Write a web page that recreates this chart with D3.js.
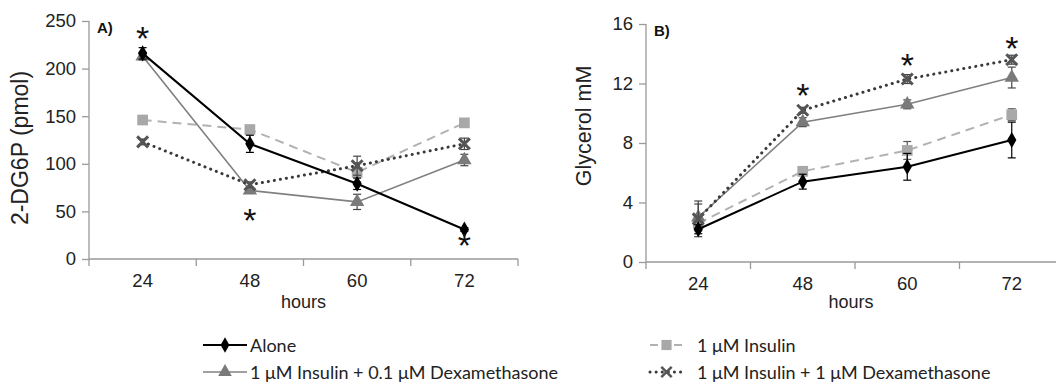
<!DOCTYPE html>
<html>
<head>
<meta charset="utf-8">
<script src="https://cdn.jsdelivr.net/npm/d3@7.9.0/dist/d3.min.js"></script>
<style>
  html, body { margin: 0; padding: 0; background: #fff; }
  svg { display: block; }
  .axis path, .axis line { stroke: #9a9a9a; stroke-width: 1.3; }
  .axis text { font-family: "Liberation Sans", Arial, sans-serif; font-size: 18.5px; fill: #222; }
  .legend text { font-family: Lato, "Open Sans", sans-serif; font-size: 18px; fill: #222; }
</style>
</head>
<body>
<svg id="chart" width="1056" height="384"></svg>
<script>
// ---- data ----
const hours = ['24', '48', '60', '72'];

// panel A: 2-DG6P (pmol)
const aloneA = [216, 121, 79, 31];
const aloneAErr = [6, 9, 6, 2];
const insulinA = [146, 136, 91, 143];
const insulinAErr = [3, 4, 10, 3];
const insDex01A = [213, 72, 60, 104];
const insDex01AErr = [4, 3, 8, 6];
const insDex1A = [123, 78, 98, 121];
const insDex1AErr = [3, 3, 10, 6];
const starsA = [{ hour: '24', value: 236 }, { hour: '48', value: 45 }, { hour: '72', value: 19 }];
const ticksA = [0, 50, 100, 150, 200, 250];

// panel B: glycerol mM
const aloneB = [2.2, 5.4, 6.4, 8.2];
const aloneBErr = [0.3, 0.5, 0.9, 1.2];
const insulinB = [2.6, 6.1, 7.5, 9.9];
const insulinBErr = [0.3, 0.3, 0.6, 0.4];
const insDex01B = [3.0, 9.4, 10.6, 12.4];
const insDex01BErr = [0.9, 0.3, 0.3, 0.7];
const insDex1B = [2.9, 10.2, 12.3, 13.6];
const insDex1BErr = [1.2, 0.2, 0.3, 0.3];
const starsB = [{ hour: '48', value: 11.5 }, { hour: '60', value: 13.5 }, { hour: '72', value: 14.65 }];
const ticksB = [0, 4, 8, 12, 16];

const seriesNames = ['Alone', '1 \u03bcM Insulin', '1 \u03bcM Insulin + 0.1 \u03bcM Dexamethasone', '1 \u03bcM Insulin + 1 \u03bcM Dexamethasone'];

// ---- styles per series ----
const styles = [
  { line: '#000', mark: '#000', width: 2, dash: null, symbol: d3.symbolDiamond, size: 75, err: '#000' },
  { line: '#b2b2b2', mark: '#a8a8a8', width: 2, dash: '9,6', symbol: d3.symbolSquare, size: 115, err: '#555' },
  { line: '#808080', mark: '#7a7a7a', width: 1.6, dash: null, symbol: d3.symbolTriangle, size: 90, err: '#444' },
  { line: '#3a3a3a', mark: '#555', width: 3, dash: '0.1,6', symbol: d3.symbolX, size: 80, err: '#444' }
];

const svg = d3.select('#chart');

function drawPanel(p) {
  const g = svg.append('g');
  const x = d3.scaleBand().domain(hours).range([p.left, p.right]).padding(0);
  const y = d3.scaleLinear().domain(p.domain).range([p.bottom, p.top]);
  const cx = h => x(h) + x.bandwidth() / 2;

  // y axis
  g.append('g')
    .attr('class', 'axis')
    .attr('transform', `translate(${p.left},0)`)
    .call(d3.axisLeft(y).tickValues(p.ticks).tickSize(7).tickPadding(6).tickSizeOuter(0))
    .call(a => a.select('.domain').attr('d', `M0,${p.top}V${p.bottom}`));

  // x axis, ticks between categories
  const xa = g.append('g')
    .attr('class', 'axis')
    .attr('transform', `translate(0,${p.bottom})`)
    .call(d3.axisBottom(x).tickSize(0).tickPadding(15).tickSizeOuter(0));
  xa.select('.domain').attr('d', `M${p.left},0H${p.right}`);
  const edges = hours.map(h => x(h)).concat([p.right]);
  xa.selectAll('line.sep').data(edges).join('line')
    .attr('class', 'sep')
    .attr('x1', d => d).attr('x2', d => d)
    .attr('y1', 0).attr('y2', 7);

  // axis titles
  g.append('text')
    .attr('transform', `translate(${p.titleX},${p.titleY}) rotate(-90)`)
    .attr('text-anchor', 'middle')
    .attr('dominant-baseline', 'central')
    .style('font-family', '"Liberation Sans", Arial, sans-serif')
    .style('font-size', p.titleSize + 'px')
    .attr('fill', '#222')
    .text(p.title);

  g.append('text')
    .attr('x', (p.left + p.right) / 2 + p.hoursShift)
    .attr('y', 308)
    .attr('text-anchor', 'middle')
    .style('font-family', '"Liberation Sans", Arial, sans-serif')
    .style('font-size', '18px')
    .attr('fill', '#222')
    .text('hours');

  g.append('text')
    .attr('x', p.left + 8)
    .attr('y', p.top + 12)
    .style('font-family', '"Liberation Sans", Arial, sans-serif')
    .style('font-size', '15px')
    .style('font-weight', 'bold')
    .attr('fill', '#111')
    .text(p.label);

  const line = d3.line().x((d, i) => cx(hours[i])).y(d => y(d));

  // draw in order: insulin, tri, X, alone on top
  [1, 2, 3, 0].forEach(si => {
    const vals = p.series[si], errs = p.errors[si], st = styles[si];
    const sg = g.append('g');
    sg.append('path')
      .datum(vals)
      .attr('d', line)
      .attr('fill', 'none')
      .attr('stroke', st.line)
      .attr('stroke-width', st.width)
      .attr('stroke-linecap', si === 3 ? 'round' : 'butt')
      .attr('stroke-dasharray', st.dash);

    // error bars
    const eb = sg.selectAll('g.err').data(vals).join('g').attr('class', 'err');
    eb.append('line')
      .attr('x1', (d, i) => cx(hours[i])).attr('x2', (d, i) => cx(hours[i]))
      .attr('y1', (d, i) => y(d - errs[i])).attr('y2', (d, i) => y(d + errs[i]))
      .attr('stroke', st.err).attr('stroke-width', 1.2);
    [-1, 1].forEach(s => {
      eb.append('line')
        .attr('x1', (d, i) => cx(hours[i]) - 4).attr('x2', (d, i) => cx(hours[i]) + 4)
        .attr('y1', (d, i) => y(d + s * errs[i])).attr('y2', (d, i) => y(d + s * errs[i]))
        .attr('stroke', st.err).attr('stroke-width', 1.2);
    });

    sg.selectAll('path.mk').data(vals).join('path')
      .attr('class', 'mk')
      .attr('transform', (d, i) => `translate(${cx(hours[i])},${y(d)})`)
      .attr('d', d3.symbol().type(st.symbol).size(st.size))
      .attr('fill', st.mark)
      .attr('stroke', si === 3 ? st.mark : 'none')
      .attr('stroke-width', si === 3 ? 3 : 0);
  });

  // significance asterisks (glyph centre sits ~0.46em above the baseline)
  g.selectAll('text.star').data(p.stars).join('text')
    .attr('class', 'star')
    .attr('x', d => cx(d.hour))
    .attr('y', d => y(d.value) + 16)
    .attr('text-anchor', 'middle')
    .style('font-family', '"Liberation Sans", Arial, sans-serif')
    .style('font-size', '34px')
    .attr('fill', '#111')
    .text('*');
}

drawPanel({
  left: 89, right: 518, top: 21, bottom: 259,
  domain: [0, 250], ticks: ticksA, title: '2-DG6P (pmol)', titleX: 20, titleY: 148, titleSize: 23,
  label: 'A)', hoursShift: 0,
  series: [aloneA, insulinA, insDex01A, insDex1A],
  errors: [aloneAErr, insulinAErr, insDex01AErr, insDex1AErr],
  stars: starsA
});

drawPanel({
  left: 646, right: 1064, top: 24, bottom: 262,
  domain: [0, 16], ticks: ticksB, title: 'Glycerol mM', titleX: 584, titleY: 126, titleSize: 21.5,
  label: 'B)', hoursShift: -4,
  series: [aloneB, insulinB, insDex01B, insDex1B],
  errors: [aloneBErr, insulinBErr, insDex01BErr, insDex1BErr],
  stars: starsB
});

// ---- legend ----
const legendPos = [
  { x: 203, y: 345 }, { x: 650, y: 345 },
  { x: 203, y: 372 }, { x: 650, y: 372 }
];
const legend = svg.append('g').attr('class', 'legend');
seriesNames.forEach((name, i) => {
  const st = styles[i], pos = legendPos[i];
  const lw = i % 2 === 0 ? 44 : 33;
  const item = legend.append('g').attr('transform', `translate(${pos.x},${pos.y})`);
  item.append('line')
    .attr('x1', 0).attr('x2', lw).attr('y1', 0).attr('y2', 0)
    .attr('stroke', st.line).attr('stroke-width', st.width)
    .attr('stroke-linecap', i === 3 ? 'round' : 'butt')
    .attr('stroke-dasharray', i === 1 ? '8,4' : st.dash);
  item.append('path')
    .attr('transform', `translate(${lw / 2},0)`)
    .attr('d', d3.symbol().type(st.symbol).size(st.size * 0.9))
    .attr('fill', st.mark)
    .attr('stroke', i === 3 ? st.mark : 'none')
    .attr('stroke-width', i === 3 ? 2.5 : 0);
  item.append('text')
    .attr('x', lw + (i % 2 === 0 ? 3 : 14))
    .attr('y', 0)
    .attr('dominant-baseline', 'central')
    .text(name);
});
</script>
</body>
</html>
